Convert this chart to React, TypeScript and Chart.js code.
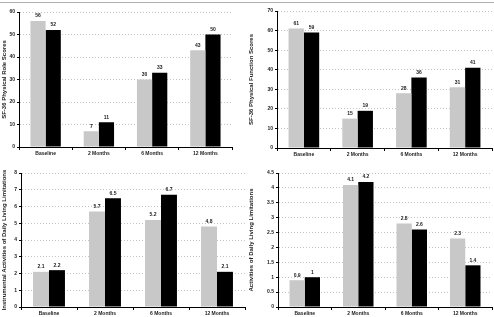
import React, { useEffect, useRef } from "react";
import { Chart, registerables } from "chart.js";

Chart.register(...registerables);

const categories = ["Baseline", "2 Months", "6 Months", "12 Months"];

const roleGray = [56, 7, 30, 43];
const roleBlack = [52, 11, 33, 50];

const functionGray = [61, 15, 28, 31];
const functionBlack = [59, 19, 36, 41];

const iadlGray = [2.1, 5.7, 5.2, 4.8];
const iadlBlack = [2.2, 6.5, 6.7, 2.1];

const adlGray = [0.9, 4.1, 2.8, 2.3];
const adlBlack = [1, 4.2, 2.6, 1.4];

const FONT = "'Liberation Sans', Arial, sans-serif";

const valueLabels = {
  id: "valueLabels",
  afterDatasetsDraw(chart: any) {
    const ctx = chart.ctx;
    ctx.save();
    ctx.font = `bold 5px ${FONT}`;
    ctx.fillStyle = "#222";
    ctx.textAlign = "center";
    ctx.textBaseline = "bottom";
    chart.data.datasets.forEach((ds: any, i: number) => {
      const meta = chart.getDatasetMeta(i);
      meta.data.forEach((el: any, j: number) => {
        ctx.fillText(String(ds.data[j]), el.x, el.y - 2.5);
      });
    });
    ctx.restore();
  },
};

type PanelProps = {
  left: number;
  top: number;
  width: number;
  height: number;
  gray: number[];
  black: number[];
  max: number;
  step: number;
  title: string;
  yWidth: number;
  padR: number;
  padTop: number;
  xHeight: number;
};

function Panel(p: PanelProps) {
  const ref = useRef<HTMLCanvasElement>(null);
  useEffect(() => {
    const chart = new Chart(ref.current as HTMLCanvasElement, {
      type: "bar",
      data: {
        labels: categories,
        datasets: [
          {
            data: p.gray,
            backgroundColor: "#c8c8c8",
            borderWidth: 0,
            categoryPercentage: 0.57,
            barPercentage: 1,
          },
          {
            data: p.black,
            backgroundColor: "#000000",
            borderWidth: 0,
            categoryPercentage: 0.57,
            barPercentage: 1,
          },
        ],
      },
      options: {
        responsive: false,
        animation: false,
        devicePixelRatio: 1,
        layout: { padding: { left: 0, right: p.padR, top: p.padTop, bottom: 0 } },
        plugins: { legend: { display: false }, tooltip: { enabled: false } },
        scales: {
          x: {
            afterFit: (s: any) => {
              s.height = p.xHeight;
            },
            grid: {
              drawOnChartArea: false,
              drawTicks: true,
              tickLength: 3,
              color: "#000",
            },
            border: { color: "#000", width: 1 },
            ticks: {
              padding: 1,
              color: "#222",
              font: { family: FONT, size: 5, weight: "bold" },
            },
          },
          y: {
            min: 0,
            max: p.max,
            afterFit: (s: any) => {
              s.width = p.yWidth;
            },
            grid: {
              color: "#c4c4c4",
              tickColor: "#000",
              tickLength: 2,
              lineWidth: 1,
            },
            border: { color: "#000", width: 1, dash: [1, 2] },
            ticks: {
              stepSize: p.step,
              padding: 2,
              color: "#222",
              font: { family: FONT, size: 5, weight: "bold" },
              callback: (v: any) => String(Number(v)),
            },
            title: {
              display: true,
              text: p.title,
              color: "#222",
              padding: { top: 1, bottom: 0 },
              font: { family: FONT, size: 6, weight: "bold" },
            },
          },
        },
      },
      plugins: [valueLabels],
    } as any);
    return () => chart.destroy();
  }, []);
  return (
    <canvas
      ref={ref}
      width={p.width}
      height={p.height}
      style={{ position: "absolute", left: p.left, top: p.top, width: p.width, height: p.height }}
    />
  );
}

export default function App() {
  return (
    <div
      style={{
        position: "fixed",
        left: 0,
        top: 0,
        width: 494,
        height: 317,
        background: "#fff",
        overflow: "hidden",
      }}
    >
      <div style={{ position: "absolute", left: 0, top: 2, width: 494, height: 1, background: "#b0b0b0" }} />
      <Panel
        left={0}
        top={4}
        width={247}
        height={156}
        gray={roleGray}
        black={roleBlack}
        max={60}
        step={10}
        title="SF-36 Physical Role Scores"
        yWidth={19}
        padR={15}
        padTop={8}
        xHeight={13}
      />
      <Panel
        left={247}
        top={4}
        width={247}
        height={156}
        gray={functionGray}
        black={functionBlack}
        max={70}
        step={10}
        title="SF-36 Physical Function Scores"
        yWidth={30}
        padR={2}
        padTop={7}
        xHeight={12}
      />
      <Panel
        left={0}
        top={160}
        width={247}
        height={157}
        gray={iadlGray}
        black={iadlBlack}
        max={8}
        step={1}
        title="Instrumental Activities of Daily Living Limitations"
        yWidth={21}
        padR={2}
        padTop={13}
        xHeight={10}
      />
      <Panel
        left={247}
        top={160}
        width={247}
        height={157}
        gray={adlGray}
        black={adlBlack}
        max={4.5}
        step={0.5}
        title="Activities of Daily Living Limitations"
        yWidth={31}
        padR={2}
        padTop={13}
        xHeight={10}
      />
    </div>
  );
}
